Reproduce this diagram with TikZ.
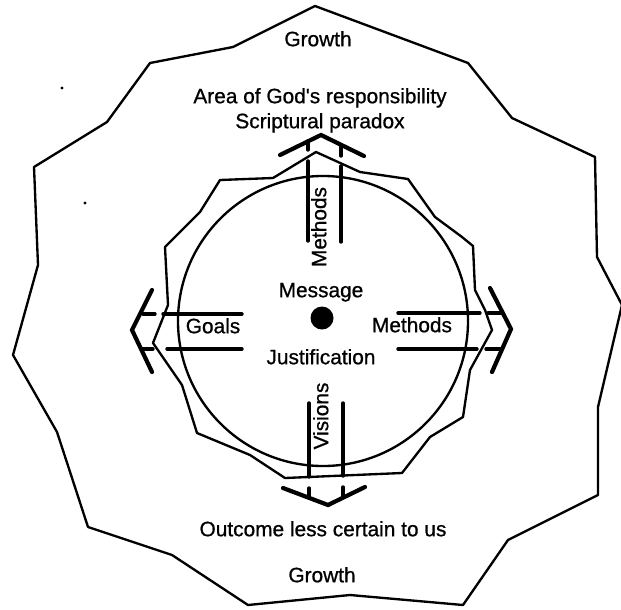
\documentclass[tikz,border=0pt]{standalone}
\usepackage{fontspec}
\setmainfont{Liberation Sans}
\newfontfamily\scanfont{Liberation Sans}[FakeBold=0.8]
\usepackage{tikz}
\tikzset{
  txt/.style  = {font=\scanfont\fontsize{17.8pt}{20pt}\selectfont, inner sep=0pt, text height=0.72em, text depth=0pt},
  edge/.style = {draw=black, line width=2pt, line join=round},
  bar/.style  = {draw=black, line width=2.9pt, line cap=round},
  chev/.style = {draw=black, line width=3.6pt, line cap=round}
}
\begin{document}
\begin{tikzpicture}[x=0.03cm, y=-0.03cm]
\useasboundingbox (0,0) rectangle (621,609);
% outer boundary
\draw[edge] (315,6) -- (468,63) -- (512,118) -- (595,157) -- (597,257) -- (622,305)
  -- (598,407) -- (598,495) -- (508,540) -- (463,605) -- (350,595) -- (248,605)
  -- (172,555) -- (88,527) -- (57,432) -- (13,355) -- (38,265) -- (34,167)
  -- (107,122) -- (150,63) -- (233,47) -- cycle;
% inner boundary
\draw[edge] (316,152) -- (360,172) -- (408,179) -- (435,217) -- (462,237) -- (473,246)
  -- (475,290) -- (485,310) -- (492,330) -- (470,370) -- (463,417) -- (430,437)
  -- (402,473) -- (285,478) -- (250,455) -- (197,433) -- (182,385) -- (153,343)
  -- (168,305) -- (165,247) -- (185,227) -- (200,212) -- (220,180) -- (273,178) -- cycle;
\draw[edge] (323,321) circle [radius=4.35cm];
\fill (322,318) circle [radius=0.345cm];
\fill (62,88) circle [radius=1.3pt];
\fill (85,203) circle [radius=1.3pt];

% channels
\draw[bar] (308,141) -- (308,150) (308,161) -- (308,241);
\draw[bar] (341,145) -- (341,156) (341,166) -- (341,242);
\draw[bar] (309,403) -- (309,477) (309,488) -- (309,497);
\draw[bar] (343,403) -- (343,476) (343,487) -- (343,497);
\draw[bar] (143,314) -- (155,314) (163,314) -- (242,314);
\draw[bar] (142,349) -- (153,349) (167,349) -- (242,349);
\draw[bar] (398,313) -- (480,313) (488,313) -- (502,313);
\draw[bar] (398,349) -- (477,349) (486,349) -- (501,349);

% arrow heads
\draw[chev] (280,155) -- (321,135) -- (364,156);
\draw[chev] (283,488) -- (328,505) -- (365,487);
\draw[chev] (152,290) -- (132,330) -- (152,372);
\draw[chev] (490,288) -- (511,329) -- (492,372);

\node[txt] (grow1) at (318,42) {Growth};
\node[txt] (area) at (320,99) {Area of God's responsibility};
\node[txt] (para) at (320,124) {Scriptural paradox};
\node[txt] (msg) at (321,293) {Message};
\node[txt] (just) at (321,360) {Justification};
\node[txt] (goals) at (213,329) {Goals};
\node[txt] (meth2) at (412,328) {Methods};
\node[txt, rotate=90] (meth1) at (322,227) {Methods};
\node[txt, rotate=90] (vis) at (324,416) {Visions};
\node[txt] (outc) at (323,532) {Outcome less certain to us};
\node[txt] (grow2) at (322,578) {Growth};
\end{tikzpicture}
\end{document}
